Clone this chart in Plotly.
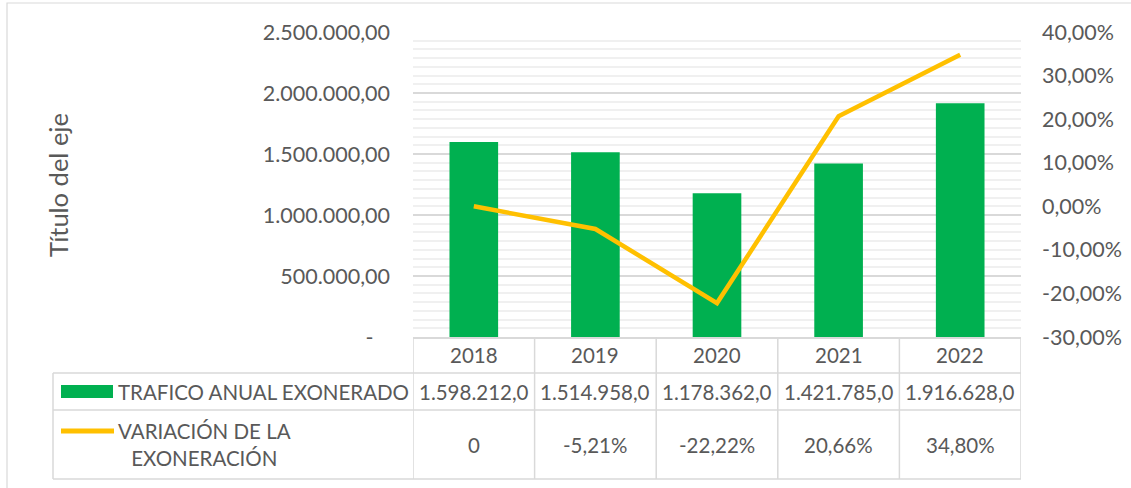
import plotly.graph_objects as go

# ---- data ----
years = ["2018", "2019", "2020", "2021", "2022"]
trafico = [1598212.0, 1514958.0, 1178362.0, 1421785.0, 1916628.0]
variacion = [0.0, -0.0521, -0.2222, 0.2066, 0.3480]

series_names = ["TRAFICO ANUAL EXONERADO", "VARIACIÓN DE LA<br>EXONERACIÓN"]
axis_title = "Título del eje"

left_tickvals = [0, 500000, 1000000, 1500000, 2000000, 2500000]
left_ticktext = ["-\u00a0\u00a0\u00a0", "500.000,00", "1.000.000,00", "1.500.000,00",
                 "2.000.000,00", "2.500.000,00"]
right_tickvals = [-0.30, -0.20, -0.10, 0.0, 0.10, 0.20, 0.30, 0.40]
right_ticktext = ["-30,00%", "-20,00%", "-10,00%", "0,00%", "10,00%", "20,00%",
                  "30,00%", "40,00%"]

# ---- styling / layout constants ----
W, H = 1131, 488
PL, PR, PT, PB = 413, 1021, 32, 337      # plot area (px)
ROWS = [337, 373, 410, 479]              # table row boundaries (px)
LEG_X = 53
GREEN = "#00B050"
GOLD = "#FFC000"
TXT = "#595959"
GRID = "#d9d9d9"
FONT = "Lato"


def px(x):
    return x / W


def py(y):
    return 1 - y / H


def fmt_num(v):
    s = f"{v:,.1f}"
    return s.replace(",", "X").replace(".", ",").replace("X", ".")


def fmt_pct(v):
    if v == 0:
        return "0"
    return f"{v * 100:.2f}%".replace(".", ",")


fig = go.Figure()
fig.add_trace(go.Bar(x=years, y=trafico, marker=dict(color=GREEN, line=dict(width=0)),
                     name="TRAFICO ANUAL EXONERADO", yaxis="y"))
fig.add_trace(go.Scatter(x=years, y=variacion, mode="lines",
                         line=dict(color=GOLD, width=4.5),
                         name="VARIACIÓN DE LA EXONERACIÓN", yaxis="y2"))

shapes = []
# chart border
shapes.append(dict(type="rect", xref="paper", yref="paper", x0=px(7), x1=px(1140),
                   y0=py(3), y1=py(500), line=dict(color=GRID, width=1.2)))
# table vertical lines at category boundaries
for i in range(len(years) + 1):
    shapes.append(dict(type="line", xref="x", yref="paper", x0=i - 0.5, x1=i - 0.5,
                       y0=py(ROWS[0]), y1=py(ROWS[-1]), line=dict(color=GRID, width=1.5)))
# table horizontal lines
for r in ROWS[1:]:
    shapes.append(dict(type="line", xref="paper", yref="paper", x0=px(LEG_X), x1=px(PR),
                       y0=py(r), y1=py(r), line=dict(color=GRID, width=1.5)))
# legend column left line
shapes.append(dict(type="line", xref="paper", yref="paper", x0=px(LEG_X), x1=px(LEG_X),
                   y0=py(ROWS[1]), y1=py(ROWS[-1]), line=dict(color=GRID, width=1.5)))
# legend keys
shapes.append(dict(type="rect", xref="paper", yref="paper", x0=px(61), x1=px(113),
                   y0=py(398), y1=py(385), fillcolor=GREEN, line=dict(width=0)))
shapes.append(dict(type="line", xref="paper", yref="paper", x0=px(61), x1=px(114),
                   y0=py(431), y1=py(431), line=dict(color=GOLD, width=5)))

annotations = []
font = dict(family=FONT, size=20.5, color=TXT)
row_c = [(ROWS[k] + ROWS[k + 1]) / 2 for k in range(3)]
for i, yr in enumerate(years):
    annotations.append(dict(x=i, y=py(row_c[0]), xref="x", yref="paper", text=yr,
                            showarrow=False, font=font, xanchor="center", yanchor="middle"))
    annotations.append(dict(x=i, y=py(row_c[1]), xref="x", yref="paper", text=fmt_num(trafico[i]),
                            showarrow=False, font=font, xanchor="center", yanchor="middle"))
    annotations.append(dict(x=i, y=py(row_c[2]), xref="x", yref="paper", text=fmt_pct(variacion[i]),
                            showarrow=False, font=font, xanchor="center", yanchor="middle"))
annotations.append(dict(x=px(116), y=py(row_c[1]), xref="paper", yref="paper",
                        text=series_names[0], showarrow=False, font=font,
                        xanchor="left", yanchor="middle"))
annotations.append(dict(x=px(116), y=py(row_c[2]), xref="paper", yref="paper",
                        text=series_names[1], showarrow=False, font=font, align="center",
                        xanchor="left", yanchor="middle"))
annotations.append(dict(x=px(58), y=py(185), xref="paper", yref="paper", text=axis_title,
                        textangle=-90, showarrow=False,
                        font=dict(family=FONT, size=25.5, color=TXT),
                        xanchor="center", yanchor="middle"))

fig.update_layout(
    template="none",
    width=W, height=H, autosize=False,
    margin=dict(l=0, r=0, t=0, b=0, pad=0),
    paper_bgcolor="white", plot_bgcolor="white",
    showlegend=False, bargap=0.6,
    font=dict(family=FONT, size=20, color=TXT),
    xaxis=dict(type="category", domain=[px(PL), px(PR)], range=[-0.5, 4.5],
               showticklabels=False, showgrid=False, zeroline=False, automargin=False,
               showline=True, linecolor=GRID, linewidth=1.5, ticks=""),
    yaxis=dict(domain=[py(PB), py(PT)], range=[0, 2500000], automargin=False,
               tickmode="array", tickvals=left_tickvals, ticktext=left_ticktext,
               showgrid=True, gridcolor=GRID, gridwidth=1.5, zeroline=False,
               ticks="", ticklabelstandoff=22, showline=False,
               tickfont=dict(family=FONT, size=21.5, color=TXT)),
    yaxis2=dict(overlaying="y", side="right", anchor="x", range=[-0.30, 0.40],
                automargin=False,
                tickmode="array", tickvals=right_tickvals, ticktext=right_ticktext,
                showgrid=False, zeroline=False, ticks="", ticklabelstandoff=20,
                showline=False,
                minor=dict(dtick=0.02, tick0=0, showgrid=True, gridcolor="#f0f0f0",
                           gridwidth=1.5, ticks=""),
                tickfont=dict(family=FONT, size=21.5, color=TXT)),
    shapes=shapes, annotations=annotations,
)

fig.write_html("out.html", config={"displayModeBar": False},
               post_script="document.body.style.margin='0';")
